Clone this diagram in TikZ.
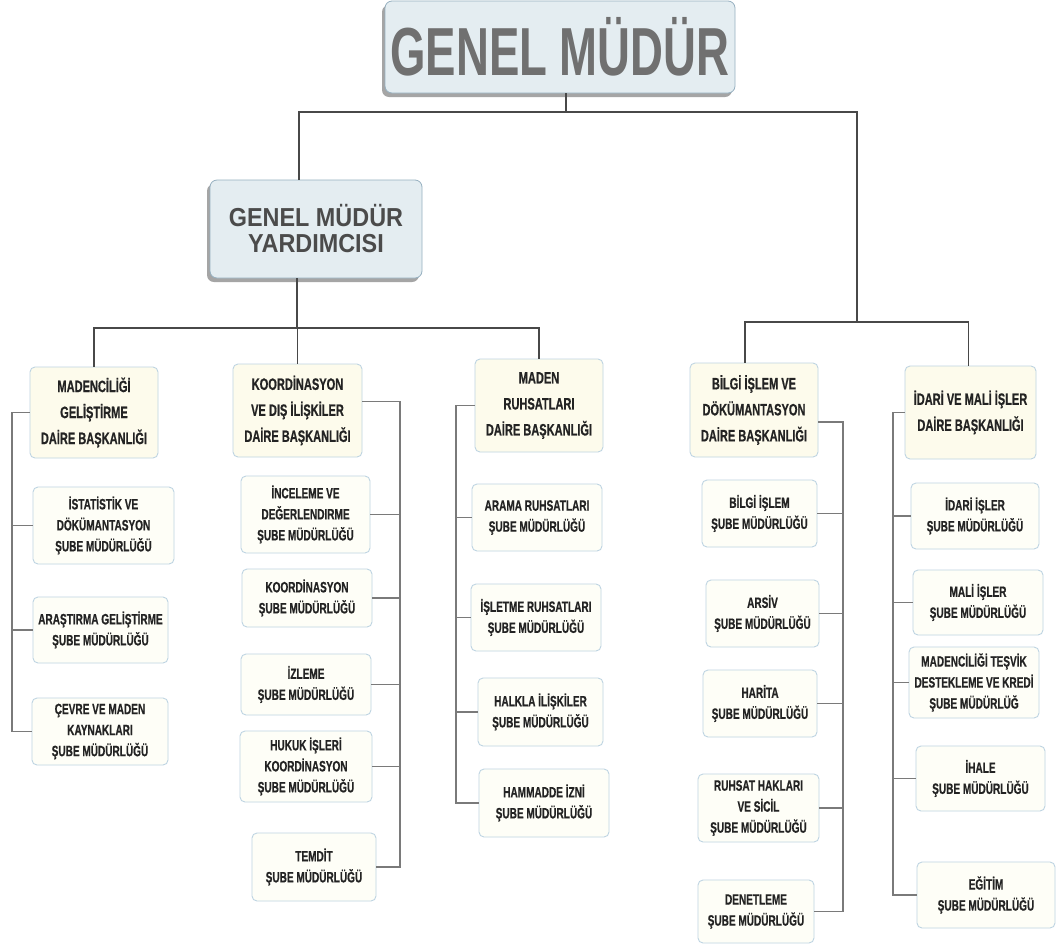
\documentclass[tikz,border=0pt]{standalone}
\usepackage{fontspec}
\usepackage{tikz}
\usetikzlibrary{shadows}
\newfontfamily\titlefont{Liberation Sans}[FakeStretch=0.67]
\newfontfamily\headfont{Liberation Sans}[FakeStretch=0.9]
\newfontfamily\unitfont{Liberation Sans}[FakeStretch=0.67, BoldFeatures={FakeBold=0.6}]
\definecolor{gmfill}{RGB}{228,237,241}
\definecolor{gmedge}{RGB}{150,176,192}
\definecolor{dfill}{RGB}{253,251,236}
\definecolor{sfill}{RGB}{254,254,247}
\definecolor{uedge}{RGB}{190,212,226}
\definecolor{topcol}{RGB}{72,72,72}
\definecolor{subcol}{RGB}{122,122,122}
\definecolor{inkcol}{RGB}{35,35,35}
\tikzset{
  gmbox/.style 2 args={draw=gmedge, fill=gmfill, rounded corners=7pt, line width=0.8pt,
    minimum width=#1, minimum height=#2, align=center, inner sep=2pt,
    drop shadow={shadow xshift=-3pt, shadow yshift=-4pt, opacity=0.5, fill=black!70}},
  dbox/.style 2 args={draw=uedge, fill=dfill, rounded corners=5pt, line width=0.9pt,
    minimum width=#1, minimum height=#2, align=center, inner sep=2pt, text=inkcol,
    font=\fontsize{16.5}{26}\selectfont\unitfont\bfseries},
  sbox/.style 2 args={draw=uedge, fill=sfill, rounded corners=5pt, line width=0.9pt,
    minimum width=#1, minimum height=#2, align=center, inner sep=2pt, text=inkcol,
    font=\fontsize{15}{21}\selectfont\unitfont\bfseries},
  topline/.style={draw=topcol, line width=1.2pt},
  subline/.style={draw=subcol, line width=1.4pt}
}
\begin{document}
\begin{tikzpicture}[x=1pt, y=-1pt]
    \useasboundingbox[fill=white] (0,0) rectangle (1057,946);
    % top
    \node[gmbox={350pt}{92pt}, text={rgb,255:red,112;green,112;blue,112},
      font=\fontsize{68}{68}\selectfont\titlefont\bfseries] (gm) at (560,47) {GENEL MÜDÜR};
    \node[gmbox={212pt}{98pt}, text={rgb,255:red,75;green,75;blue,75},
      font=\fontsize{26}{26}\selectfont\headfont\bfseries] (gmy) at (316,229) {GENEL MÜDÜR\\YARDIMCISI};
    % daire baskanliklari
    \node[dbox={128pt}{91pt}] (mgdb) at (94,412.5) {MADENCİLİĞİ\\GELİŞTİRME\\DAİRE BAŞKANLIĞI};
    \node[dbox={129pt}{93pt}] (kdidb) at (297.5,410.5) {KOORDİNASYON\\VE DIŞ İLİŞKİLER\\DAİRE BAŞKANLIĞI};
    \node[dbox={128pt}{93pt}] (mrdb) at (539,405.5) {MADEN\\RUHSATLARI\\DAİRE BAŞKANLIĞI};
    \node[dbox={128pt}{94pt}] (bidb) at (754,410) {BİLGİ İŞLEM VE\\DÖKÜMANTASYON\\DAİRE BAŞKANLIĞI};
    \node[dbox={131pt}{93pt}] (imdb) at (970.5,412.5) {İDARİ VE MALİ İŞLER\\DAİRE BAŞKANLIĞI};
    % column 1
    \node[sbox={141pt}{77pt}] (ist) at (103.5,525.5) {İSTATİSTİK VE\\DÖKÜMANTASYON\\ŞUBE MÜDÜRLÜĞÜ};
    \node[sbox={135pt}{66pt}] (arg) at (100.5,630) {ARAŞTIRMA GELİŞTİRME\\ŞUBE MÜDÜRLÜĞÜ};
    \node[sbox={136pt}{67pt}] (cev) at (100,731.5) {ÇEVRE VE MADEN\\KAYNAKLARI\\ŞUBE MÜDÜRLÜĞÜ};
    % column 2
    \node[sbox={129pt}{77pt}] (inc) at (305.5,514.5) {İNCELEME VE\\DEĞERLENDIRME\\ŞUBE MÜDÜRLÜĞÜ};
    \node[sbox={130pt}{58pt}] (koo) at (307,598) {KOORDİNASYON\\ŞUBE MÜDÜRLÜĞÜ};
    \node[sbox={130pt}{61pt}] (izl) at (306,684.5) {İZLEME\\ŞUBE MÜDÜRLÜĞÜ};
    \node[sbox={132pt}{71pt}] (huk) at (306,766.5) {HUKUK İŞLERİ\\KOORDİNASYON\\ŞUBE MÜDÜRLÜĞÜ};
    \node[sbox={124pt}{68pt}] (tem) at (314,867) {TEMDİT\\ŞUBE MÜDÜRLÜĞÜ};
    % column 3
    \node[sbox={130pt}{67pt}] (ara) at (537,517.5) {ARAMA RUHSATLARI\\ŞUBE MÜDÜRLÜĞÜ};
    \node[sbox={130pt}{67pt}] (isl) at (536,617.5) {İŞLETME RUHSATLARI\\ŞUBE MÜDÜRLÜĞÜ};
    \node[sbox={125pt}{68pt}] (hal) at (540.5,712) {HALKLA İLİŞKİLER\\ŞUBE MÜDÜRLÜĞÜ};
    \node[sbox={130pt}{68pt}] (ham) at (544,803) {HAMMADDE İZNİ\\ŞUBE MÜDÜRLÜĞÜ};
    % column 4
    \node[sbox={115pt}{67pt}] (bis) at (759.5,513.5) {BİLGİ İŞLEM\\ŞUBE MÜDÜRLÜĞÜ};
    \node[sbox={113pt}{67pt}] (ars) at (762.5,613.5) {ARSİV\\ŞUBE MÜDÜRLÜĞÜ};
    \node[sbox={114pt}{67pt}] (har) at (760,703.5) {HARİTA\\ŞUBE MÜDÜRLÜĞÜ};
    \node[sbox={121pt}{68pt}] (ruh) at (758.5,808) {RUHSAT HAKLARI\\VE SİCİL\\ŞUBE MÜDÜRLÜĞÜ};
    \node[sbox={116pt}{63pt}] (den) at (756,911.5) {DENETLEME\\ŞUBE MÜDÜRLÜĞÜ};
    % column 5
    \node[sbox={128pt}{66pt}] (ida) at (975,516) {İDARİ İŞLER\\ŞUBE MÜDÜRLÜĞÜ};
    \node[sbox={130pt}{65pt}] (mal) at (978,602.5) {MALİ İŞLER\\ŞUBE MÜDÜRLÜĞÜ};
    \node[sbox={130pt}{71pt}] (tes) at (974,682.5) {MADENCİLİĞİ TEŞVİK\\DESTEKLEME VE KREDİ\\ŞUBE MÜDÜRLÜĞ};
    \node[sbox={129pt}{65pt}] (iha) at (980.5,778.5) {İHALE\\ŞUBE MÜDÜRLÜĞÜ};
    \node[sbox={138pt}{66pt}] (egi) at (986,895) {EĞİTİM\\ŞUBE MÜDÜRLÜĞÜ};
    % upper lines
    \coordinate (hub) at (566,112);
    \coordinate (hubR) at (857,322);
    \coordinate (hubL) at (297,328);
    \draw[topline] ([xshift=6pt]gm.south) -- (hub);
    \draw[topline] ([xshift=-17pt]gmy.north) |- (hub) -| (hubR);
    \draw[topline] ([xshift=-9pt]bidb.north) |- (hubR) -| ([xshift=-2pt]imdb.north);
    \draw[topline] ([xshift=-19pt]gmy.south) -- (hubL);
    \draw[topline] (mgdb.north) |- (hubL) -| (mrdb.north);
    \draw[topline] (kdidb.north) -- (kdidb.north |- hubL);
    % bus lines
    \coordinate (bus1) at (12,0);
    \coordinate (bus2) at (400,0);
    \coordinate (bus3) at (456,0);
    \coordinate (bus4) at (843,0);
    \coordinate (bus5) at (893,0);
    \draw[subline] (mgdb.west) -| (bus1 |- cev.west) -- (cev.west);
    \foreach \n in {ist,arg} \draw[subline] (\n.west) -- (\n.west -| bus1);
    \draw[subline] ([yshift=9pt]kdidb.east) -| (bus2 |- tem.east) -- (tem.east);
    \foreach \n in {inc,koo,izl,huk} \draw[subline] (\n.east) -- (\n.east -| bus2);
    \draw[subline] (mrdb.west) -| (bus3 |- ham.west) -- (ham.west);
    \foreach \n in {ara,isl,hal} \draw[subline] (\n.west) -- (\n.west -| bus3);
    \draw[subline] ([yshift=-12pt]bidb.east) -| (bus4 |- den.east) -- (den.east);
    \foreach \n in {bis,ars,har,ruh} \draw[subline] (\n.east) -- (\n.east -| bus4);
    \draw[subline] (imdb.west) -| (bus5 |- egi.west) -- (egi.west);
    \foreach \n in {ida,mal,tes,iha} \draw[subline] (\n.west) -- (\n.west -| bus5);
\end{tikzpicture}
\end{document}
